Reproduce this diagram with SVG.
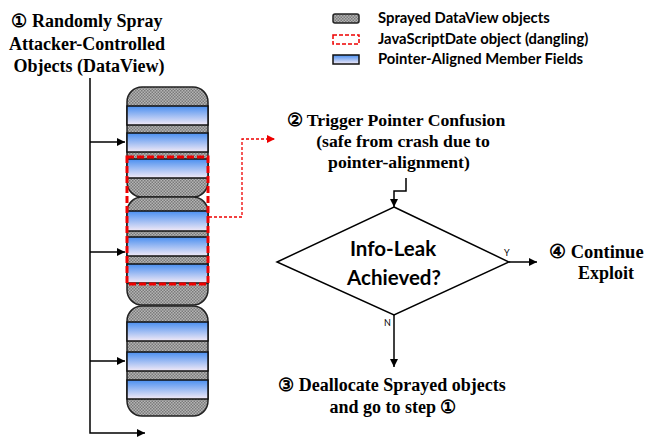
<svg xmlns="http://www.w3.org/2000/svg" width="649" height="437" viewBox="0 0 649 437">
<defs>
<pattern id="chk" width="3" height="3" patternUnits="userSpaceOnUse">
<rect width="3" height="3" fill="#b4b4b4"/>
<rect width="1.5" height="1.5" fill="#7a7a7a"/>
<rect x="1.5" y="1.5" width="1.5" height="1.5" fill="#7a7a7a"/>
</pattern>
<linearGradient id="blu" x1="0" y1="0" x2="0" y2="1">
<stop offset="0" stop-color="#4a8ff0"/>
<stop offset="1" stop-color="#f3eaf6"/>
</linearGradient>
<marker id="ah" viewBox="0 0 10 10" refX="10" refY="5" markerWidth="8" markerHeight="8" markerUnits="userSpaceOnUse" orient="auto">
<path d="M0,0 L10,5 L0,10 z" fill="#000"/>
</marker>
<marker id="ahr" viewBox="0 0 10 10" refX="10" refY="5" markerWidth="8" markerHeight="8" markerUnits="userSpaceOnUse" orient="auto">
<path d="M0,0 L10,5 L0,10 z" fill="#e00"/>
</marker>
</defs>
<style>
.obj{fill:url(#chk);stroke:#222;stroke-width:1.5}
.band{fill:url(#blu);stroke:#111;stroke-width:1.5}
.ser{font-family:"Liberation Serif","DejaVu Serif",serif;font-weight:bold;fill:#000}
.cal{font-family:"Lato","Open Sans","Liberation Sans",sans-serif;font-weight:bold;fill:#000}
.ln{stroke:#000;stroke-width:1.5;fill:none}
.dash{fill:none;stroke:#e00;stroke-width:3;stroke-dasharray:7,3}
</style>

<g id="title">
<text class="ser" font-size="18" text-anchor="middle" x="87" y="27">① Randomly Spray</text>
<text class="ser" font-size="18" text-anchor="middle" x="87" y="50">Attacker-Controlled</text>
<text class="ser" font-size="18" text-anchor="middle" x="89" y="72">Objects (DataView)</text>
</g>

<g id="legend">
<rect x="333" y="14" width="26" height="9" rx="2" class="obj"/>
<rect x="333" y="35" width="26" height="9" fill="none" stroke="#e00" stroke-width="1.5" stroke-dasharray="4,2"/>
<rect x="333" y="55" width="26" height="9" class="band"/>
<text class="cal" font-size="14.8" x="378" y="23">Sprayed DataView objects</text>
<text class="cal" font-size="14.8" x="378" y="44">JavaScriptDate object (dangling)</text>
<text class="cal" font-size="14.8" x="378" y="64">Pointer-Aligned Member Fields</text>
</g>

<g id="object1">
<rect x="127" y="87" width="81" height="110" rx="15" class="obj"/>
<rect x="127" y="106" width="81" height="19" class="band"/>
<rect x="127" y="133" width="81" height="19" class="band"/>
<rect x="127" y="159" width="81" height="19" class="band"/>
</g>
<g id="object2">
<rect x="127" y="197" width="81" height="108" rx="15" class="obj"/>
<rect x="127" y="211" width="81" height="20" class="band"/>
<rect x="127" y="237" width="81" height="19" class="band"/>
<rect x="127" y="264" width="81" height="19" class="band"/>
</g>
<g id="object3">
<rect x="127" y="306" width="81" height="110" rx="15" class="obj"/>
<rect x="127" y="322" width="81" height="19" class="band"/>
<rect x="127" y="352" width="81" height="19" class="band"/>
<rect x="127" y="380" width="81" height="19" class="band"/>
</g>
<g id="dangling">
<rect x="127" y="157" width="81" height="127" class="dash"/>
</g>

<g id="step2">
<text class="ser" font-size="17.7" text-anchor="middle" x="396" y="126">② Trigger Pointer Confusion</text>
<text class="ser" font-size="17.7" text-anchor="middle" x="403" y="147">(safe from crash due to</text>
<text class="ser" font-size="17.7" text-anchor="middle" x="399" y="168">pointer-alignment)</text>
</g>

<g id="decision">
<polygon points="394,207 509,262 394,315 277,262" fill="#fff" stroke="#000" stroke-width="1.5"/>
<text class="cal" font-size="20.5" text-anchor="middle" x="393" y="256">Info-Leak</text>
<text class="cal" font-size="20.5" text-anchor="middle" x="394" y="285">Achieved?</text>
</g>

<g id="step4">
<text class="ser" font-size="18.5" x="549" y="258">④ Continue</text>
<text class="ser" font-size="18" text-anchor="middle" x="606" y="279">Exploit</text>
</g>

<g id="step3">
<text class="ser" font-size="18" text-anchor="middle" x="392" y="391">③ Deallocate Sprayed objects</text>
<text class="ser" font-size="18" text-anchor="middle" x="393" y="413">and go to step ①</text>
</g>

<g id="connectors">
<path class="ln" d="M90,78 V433 H145" marker-end="url(#ah)"/>
<path class="ln" d="M90,142 H125" marker-end="url(#ah)"/>
<path class="ln" d="M90,252 H125" marker-end="url(#ah)"/>
<path class="ln" d="M90,361 H125" marker-end="url(#ah)"/>
<path d="M209,217 H242 V139 H275" fill="none" stroke="#e00" stroke-width="1.3" stroke-dasharray="3,2" marker-end="url(#ahr)"/>
<path class="ln" d="M406,178 V191 H394 V207" marker-end="url(#ah)"/>
<path class="ln" d="M509,262 H537" marker-end="url(#ah)"/>
<path class="ln" d="M394,315 V367" marker-end="url(#ah)"/>
<text font-family="Lato,'Liberation Sans',sans-serif" font-size="9" x="504" y="256">Y</text>
<text font-family="Lato,'Liberation Sans',sans-serif" font-size="9" x="384" y="326">N</text>
</g>
</svg>
